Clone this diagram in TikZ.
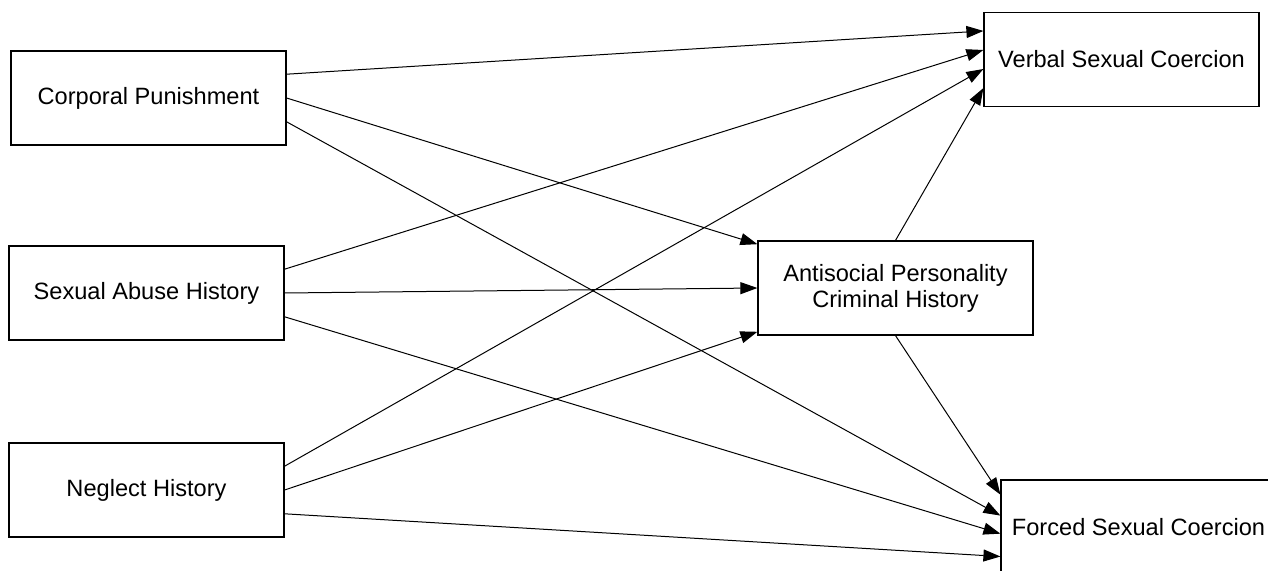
\documentclass[tikz,border=0pt]{standalone}
\usepackage{fontspec}
\setmainfont{Liberation Sans}
\usetikzlibrary{arrows.meta,calc}

\tikzset{
  var/.style={draw, rectangle, line width=0.6pt, minimum width=137.5pt, minimum height=47pt,
    inner sep=0pt, align=center, font=\fontsize{11.8}{13}\selectfont},
  arr/.style={-{Triangle[length=8.5pt,width=6pt]}, line width=0.5pt}
}

\begin{document}
\begin{tikzpicture}[x=0.5pt, y=-0.5pt]
    \clip (0,0) rectangle (1268,571);
    \node[var] (corp) at (148.5,98) {Corporal Punishment};
    \node[var] (sexab) at (146.5,293) {Sexual Abuse History};
    \node[var] (negl) at (146.5,490) {Neglect History};
    \node[var] (anti) at (895.5,288) {Antisocial Personality\\Criminal History};
    \node[var] (verbal) at (1121.5,59.5) {Verbal Sexual Coercion};
    \node[var] (forced) at (1138.5,527) {Forced Sexual Coercion};
    % to verbal sexual coercion
    \draw[arr] ($(corp.north east)!0.25!(corp.south east)$) -- ($(verbal.north west)!0.2!(verbal.south west)$);
    \draw[arr] ($(sexab.north east)!0.25!(sexab.south east)$) -- ($(verbal.north west)!0.4!(verbal.south west)$);
    \draw[arr] ($(negl.north east)!0.25!(negl.south east)$) -- ($(verbal.north west)!0.6!(verbal.south west)$);
    \draw[arr] (anti.north) -- ($(verbal.north west)!0.8!(verbal.south west)$);
    % to antisocial personality
    \draw[arr] (corp.east) -- ($(anti.north west)!0.04!(anti.south west)$);
    \draw[arr] (sexab.east) -- (anti.west);
    \draw[arr] (negl.east) -- ($(anti.north west)!0.96!(anti.south west)$);
    % to forced sexual coercion
    \draw[arr] (anti.south) -- ($(forced.north west)!0.16!(forced.south west)$);
    \draw[arr] ($(corp.north east)!0.75!(corp.south east)$) -- ($(forced.north west)!0.38!(forced.south west)$);
    \draw[arr] ($(sexab.north east)!0.75!(sexab.south east)$) -- ($(forced.north west)!0.57!(forced.south west)$);
    \draw[arr] ($(negl.north east)!0.75!(negl.south east)$) -- ($(forced.north west)!0.81!(forced.south west)$);
\end{tikzpicture}
\end{document}
